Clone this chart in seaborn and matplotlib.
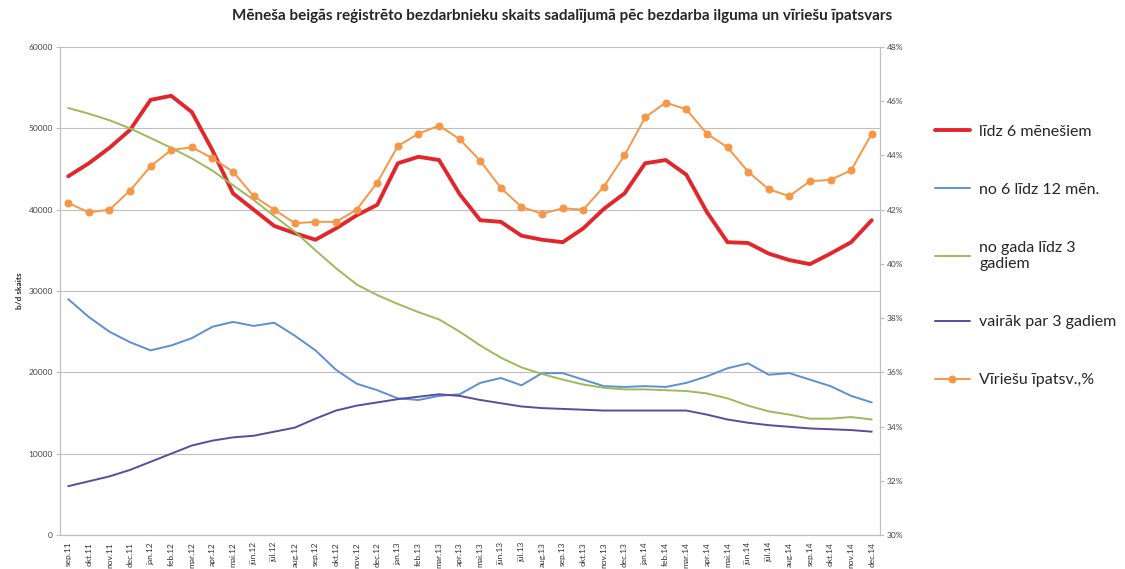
import matplotlib

matplotlib.use("Agg")
import matplotlib.pyplot as plt
import pandas as pd
import seaborn as sns

sns.set_style("white")
plt.rcParams["font.family"] = ["Lato", "DejaVu Sans"]

# month labels, sep.11 .. dec.14
months = ["sep.11", "okt.11", "nov.11", "dec.11",
          "jan.12", "feb.12", "mar.12", "apr.12", "mai.12", "jūn.12",
          "jūl.12", "aug.12", "sep.12", "okt.12", "nov.12", "dec.12",
          "jan.13", "feb.13", "mar.13", "apr.13", "mai.13", "jūn.13",
          "jūl.13", "aug.13", "sep.13", "okt.13", "nov.13", "dec.13",
          "jan.14", "feb.14", "mar.14", "apr.14", "mai.14", "jūn.14",
          "jūl.14", "aug.14", "sep.14", "okt.14", "nov.14", "dec.14"]

lidz_6 = [44100, 45700, 47600, 49800, 53500, 54000, 52000, 47300, 42000, 40000,
          38000, 37100, 36300, 37700, 39300, 40600, 45700, 46500, 46100, 41900,
          38700, 38500, 36800, 36300, 36000, 37700, 40100, 42000, 45700, 46100,
          44300, 39700, 36000, 35900, 34600, 33800, 33300, 34600, 36000, 38700]

no_6_12 = [29000, 26800, 25000, 23700, 22700, 23300, 24200, 25600, 26200, 25700,
           26100, 24500, 22700, 20300, 18600, 17800, 16800, 16600, 17100, 17300,
           18700, 19300, 18400, 19900, 19900, 19100, 18300, 18200, 18300, 18200,
           18700, 19500, 20500, 21100, 19700, 19900, 19100, 18300, 17100, 16300]

no_1_3 = [52500, 51800, 51000, 50000, 48800, 47600, 46300, 44800, 43000, 41200,
          39200, 37300, 35000, 32800, 30800, 29500, 28400, 27400, 26500, 25000,
          23300, 21800, 20600, 19800, 19100, 18500, 18100, 17900, 17900, 17800,
          17700, 17400, 16800, 15900, 15200, 14800, 14300, 14300, 14500, 14200]

virs_3 = [6000, 6600, 7200, 8000, 9000, 10000, 11000, 11600, 12000, 12200,
          12700, 13200, 14300, 15300, 15900, 16300, 16700, 17000, 17300, 17100,
          16600, 16200, 15800, 15600, 15500, 15400, 15300, 15300, 15300, 15300,
          15300, 14800, 14200, 13800, 13500, 13300, 13100, 13000, 12900, 12700]

virieshu_pct = [42.25, 41.9, 42.0, 42.7, 43.6, 44.2, 44.3, 43.9, 43.4, 42.5,
                42.0, 41.5, 41.55, 41.55, 42.0, 43.0, 44.35, 44.8, 45.1, 44.6,
                43.8, 42.8, 42.1, 41.85, 42.05, 42.0, 42.85, 44.0, 45.4, 45.95,
                45.7, 44.8, 44.3, 43.4, 42.75, 42.5, 43.05, 43.1, 43.45, 44.8]

df = pd.DataFrame({
    "x": range(len(months)),
    "līdz 6 mēnešiem": lidz_6,
    "no 6 līdz 12 mēn.": no_6_12,
    "no gada līdz 3\ngadiem": no_1_3,
    "vairāk par 3 gadiem": virs_3,
    "pct": virieshu_pct,
})

styles = [
    ("līdz 6 mēnešiem", "#E3262B", 2.8),
    ("no 6 līdz 12 mēn.", "#5F8FD3", 1.4),
    ("no gada līdz 3\ngadiem", "#9BBB59", 1.4),
    ("vairāk par 3 gadiem", "#5B4A9E", 1.4),
]

fig = plt.figure(figsize=(11.25, 5.69), dpi=100)
ax = fig.add_axes([0.0533, 0.0598, 0.7289, 0.8576])
ax2 = ax.twinx()

for col, color, lw in styles:
    sns.lineplot(data=df, x="x", y=col, ax=ax, color=color, linewidth=lw, label=col, legend=False)

sns.lineplot(data=df, x="x", y="pct", ax=ax2, color="#F79646", linewidth=1.4,
             marker="o", markersize=5, markeredgecolor="#F79646",
             label="Vīriešu īpatsv.,%", legend=False)

ax.set_xlim(-0.4, len(months) - 0.6)
ax.set_ylim(0, 60000)
ax.set_yticks(range(0, 60001, 10000))
ax.set_yticklabels([str(v) for v in range(0, 60001, 10000)], fontsize=6, color="#444444")
ax.set_xticks(range(len(months)))
ax.set_xticklabels(months, rotation=90, fontsize=6, color="#333333")
ax.set_xlabel("")
ax.set_ylabel("b/d skaits", fontsize=6, fontweight="bold")
ax.yaxis.grid(True, color="#BFBFBF", linewidth=0.8)

ax2.set_ylim(30, 48)
ax2.set_yticks(range(30, 49, 2))
ax2.set_yticklabels([f"{v}%" for v in range(30, 49, 2)], fontsize=6, color="#444444")
ax2.set_ylabel("")

for a in (ax, ax2):
    a.spines["top"].set_visible(False)
    for s in ("left", "bottom", "right"):
        a.spines[s].set_color("#BFBFBF")
    a.tick_params(length=3, color="#BFBFBF", pad=2)

fig.suptitle("Mēneša beigās reģistrēto bezdarbnieku skaits sadalījumā pēc bezdarba ilguma un vīriešu īpatsvars",
             x=0.5, y=0.985, fontsize=11, fontweight="bold")

h1, l1 = ax.get_legend_handles_labels()
h2, l2 = ax2.get_legend_handles_labels()
fig.legend(h1 + h2, l1 + l2, loc="center left", bbox_to_anchor=(0.818, 0.55),
           frameon=False, fontsize=11.5, labelspacing=2.75, handlelength=2.2,
           handletextpad=0.6)

fig.savefig("out.png", dpi=100)
